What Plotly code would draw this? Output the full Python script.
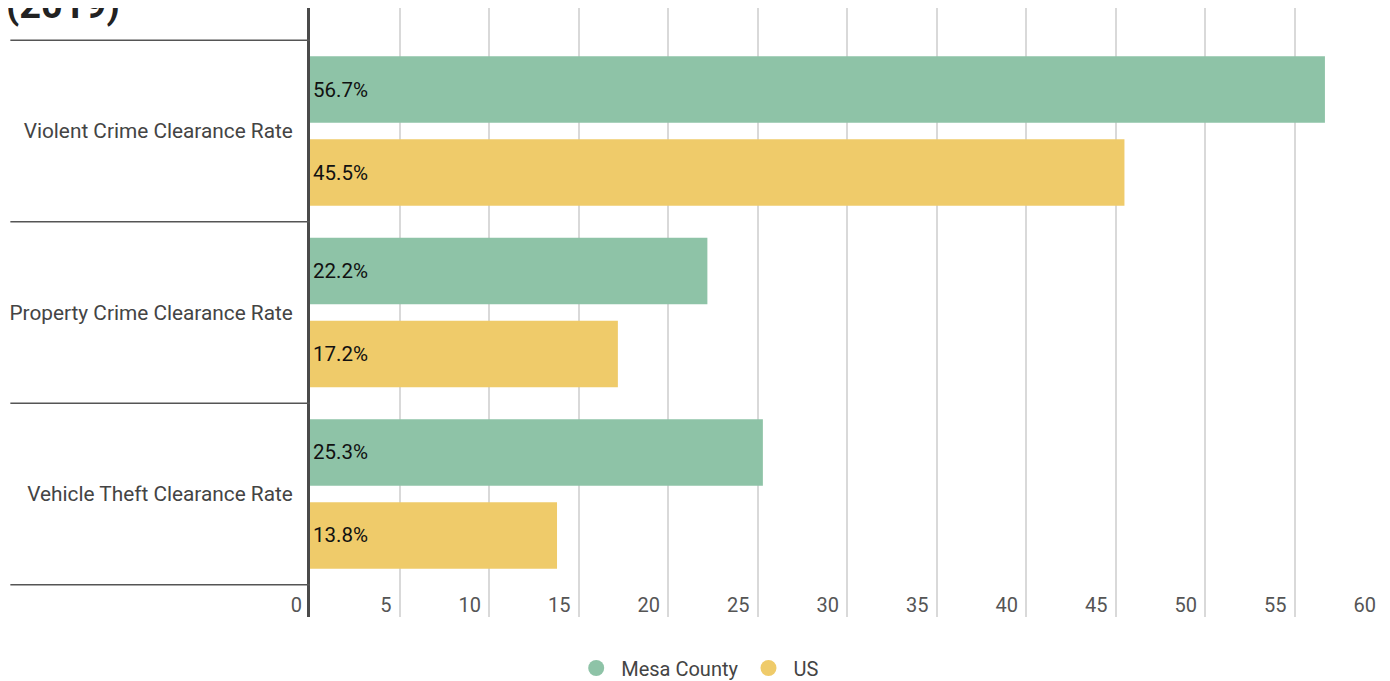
import plotly.graph_objects as go

categories = ["Violent Crime Clearance Rate", "Property Crime Clearance Rate", "Vehicle Theft Clearance Rate"]
mesa_county = [56.7, 22.2, 25.3]
us = [45.5, 17.2, 13.8]
series_names = ["Mesa County", "US"]
x_ticks = list(range(0, 65, 5))
title_text = "(2019)"

GREEN = "#8ec3a7"
YELLOW = "#efcb6a"
FONT = "Roboto"

fig = go.Figure()
for name, vals, col in [(series_names[0], mesa_county, GREEN), (series_names[1], us, YELLOW)]:
    fig.add_trace(go.Bar(
        y=categories, x=vals, name=name, orientation="h",
        marker=dict(color=col, line=dict(width=0)),
        text=[f"{v:.1f}%" for v in vals], textposition="inside",
        insidetextanchor="start", textfont=dict(color="#111", size=20.5, family=FONT),
        showlegend=False, hoverinfo="x+name",
    ))
# legend entries as circles
for name, col in [(series_names[0], GREEN), (series_names[1], YELLOW)]:
    fig.add_trace(go.Scatter(x=[None], y=[None], mode="markers", name=name,
                             marker=dict(color=col, size=16, symbol="circle")))

# category separator lines
n = len(categories)
for i in range(n + 1):
    fig.add_shape(type="line", xref="paper", yref="y", x0=-0.279, x1=0,
                  y0=i - 0.5, y1=i - 0.5, line=dict(color="#555", width=1.5), layer="above")

fig.add_annotation(text=f"<b>{title_text}</b>", xref="paper", yref="paper",
                   x=-0.2849, y=1.0049, xanchor="left", yanchor="middle", showarrow=False,
                   font=dict(size=38, color="#222", family=FONT))

fig.update_layout(
    width=1390, height=681,
    margin=dict(l=302, r=14, t=0, b=72, autoexpand=False),
    paper_bgcolor="white", plot_bgcolor="white",
    font=dict(family=FONT, size=20, color="#444"),
    barmode="group", bargap=0.085, bargroupgap=0.2,
    legend=dict(orientation="h", x=0.361, xanchor="center", y=-0.0837, yanchor="middle",
                font=dict(size=20, color="#444", family=FONT), itemwidth=40),
    xaxis=dict(range=[0, 60], tickvals=x_ticks, showgrid=True, gridcolor="#d9d9d9", gridwidth=1.5,
               zeroline=False, showline=False, ticks="", automargin=False,
               ticklabelposition="inside left", ticklabeloverflow="allow", ticklabelshift=-8,
               ticklabelstandoff=-5,
               tickfont=dict(size=20, color="#555", family=FONT)),
    yaxis=dict(categoryorder="array", categoryarray=categories, range=[n - 1 + 0.678, -0.678],
               showgrid=False, zeroline=False, showline=True, linecolor="#4a4a4a", linewidth=3,
               ticks="", ticklabelstandoff=10, automargin=False,
               tickfont=dict(size=20.8, color="#444", family=FONT)),
)

fig.write_html("out.html")
